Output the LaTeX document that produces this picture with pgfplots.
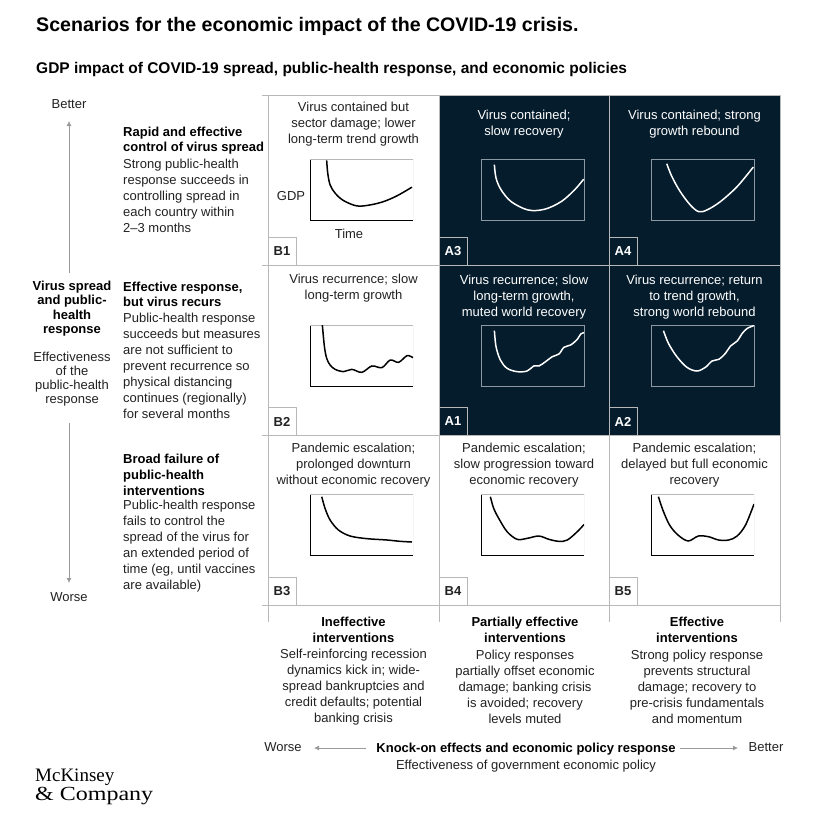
\documentclass[border=0pt]{standalone}
\usepackage{pgfplots}
\pgfplotsset{compat=1.18}
\usetikzlibrary{arrows.meta}
\usepackage{fontspec}
\setmainfont{Liberation Sans}
\newfontfamily\logofont{Liberation Serif}
\definecolor{navy}{HTML}{051C2C}
\definecolor{gridc}{HTML}{B8B8B8}
\definecolor{txt}{HTML}{222222}
\definecolor{boxd}{HTML}{8C98A2}
\definecolor{arr}{HTML}{9A9A9A}

\pgfplotsset{
  mini/.style={scale only axis, width=103pt, height=61pt, xmin=0, xmax=10, ymin=0, ymax=10, ticks=none, anchor=north west},
  miniB/.style={mini, axis lines=left, axis line style={-, black, line width=1pt}},
  miniA/.style={mini, axis line style={boxd, line width=0.8pt}},
  curveB/.style={black, line width=1.5pt, smooth, tension=0.55, no markers},
  curveA/.style={white, line width=1.5pt, smooth, tension=0.55, no markers},
}
\newcommand{\greybox}{\draw[gridc, line width=0.8pt] (rel axis cs:0,1) -- (rel axis cs:1,1) -- (rel axis cs:1,0);}
\newcommand{\body}{\fontsize{13}{16}\selectfont}

\begin{document}
\begin{tikzpicture}
\useasboundingbox (0,0) rectangle (816pt,-814pt);
\begin{scope}[x=1pt,y=-1pt]
  \fill[white] (0,0) rectangle (816,814);
  \fill[navy] (439,95) rectangle (780,435);
  % grid
  \foreach \yy in {95,265,435,605} {\draw[gridc, line width=0.8pt] (262,\yy) -- (780,\yy);}
  \foreach \xx in {268,439,609,780} {\draw[gridc, line width=0.8pt] (\xx,95) -- (\xx,622);}
  % label boxes
  \foreach \xx/\yy/\lab/\col in {268/265/B1/txt, 439/265/A3/white, 609/265/A4/white,
                                 268/435/B2/txt, 439/435/A1/white, 609/435/A2/white,
                                 268/605/B3/txt, 439/605/B4/txt, 609/605/B5/txt} {
    \draw[gridc, line width=0.8pt] (\xx,\yy-28) rectangle (\xx+28,\yy);
    \node[inner sep=0, text=\col, font=\fontsize{13}{16}\selectfont\bfseries] at (\xx+14,\yy-13.5) {\lab};
  }
  % titles
  \node[anchor=west, inner sep=0, font=\fontsize{19.6}{23}\selectfont\bfseries] at (36,26) {Scenarios for the economic impact of the COVID-19 crisis.};
  \node[anchor=west, inner sep=0, font=\fontsize{15.5}{18}\selectfont\bfseries] at (36,69) {GDP impact of COVID-19 spread, public-health response, and economic policies};
  % cell texts
  \node[inner sep=0, align=center, text=txt, font=\body] at (353.5,124) {Virus contained but\\sector damage; lower\\long-term trend growth};
  \node[inner sep=0, align=center, text=white, font=\body] at (524,124.5) {Virus contained;\\slow recovery};
  \node[inner sep=0, align=center, text=white, font=\body] at (694.5,124.5) {Virus contained; strong\\growth rebound};
  \node[inner sep=0, align=center, text=txt, font=\body] at (353.5,288) {Virus recurrence; slow\\long-term growth};
  \node[inner sep=0, align=center, text=white, font=\body] at (524,297) {Virus recurrence; slow\\long-term growth,\\muted world recovery};
  \node[inner sep=0, align=center, text=white, font=\body] at (694.5,297) {Virus recurrence; return\\to trend growth,\\strong world rebound};
  \node[inner sep=0, align=center, text=txt, font=\body] at (353.5,465) {Pandemic escalation;\\prolonged downturn\\without economic recovery};
  \node[inner sep=0, align=center, text=txt, font=\body] at (524,465) {Pandemic escalation;\\slow progression toward\\economic recovery};
  \node[inner sep=0, align=center, text=txt, font=\body] at (694.5,465) {Pandemic escalation;\\delayed but full economic\\recovery};
  \node[inner sep=0, text=txt, font=\body] at (291,196) {GDP};
  \node[inner sep=0, text=txt, font=\body] at (349,234) {Time};
  % left column
  \node[inner sep=0, text=txt, font=\body] at (69,104) {Better};
  \node[inner sep=0, text=txt, font=\body] at (69,597) {Worse};
  \draw[arr, line width=0.8pt, -{Latex[length=5pt,width=5pt]}] (69,273) -- (69,121);
  \draw[arr, line width=0.8pt, -{Latex[length=5pt,width=5pt]}] (69,423) -- (69,583);
  \node[inner sep=0, align=center, font=\fontsize{13}{14.5}\selectfont\bfseries] at (72,308.5) {Virus spread\\and public-\\health\\response};
  \node[inner sep=0, align=center, text=txt, font=\fontsize{13}{14.2}\selectfont] at (72,379) {Effectiveness\\of the\\public-health\\response};
  \node[anchor=west, inner sep=0, align=left, font=\fontsize{13}{15.5}\selectfont\bfseries] at (123,140.5) {Rapid and effective\\control of virus spread};
  \node[anchor=west, inner sep=0, align=left, text=txt, font=\body] at (123,195.5) {Strong public-health\\response succeeds in\\controlling spread in\\each country within\\2–3 months};
  \node[anchor=west, inner sep=0, align=left, font=\fontsize{13}{15.5}\selectfont\bfseries] at (123,294.5) {Effective response,\\but virus recurs};
  \node[anchor=west, inner sep=0, align=left, text=txt, font=\body] at (123,365.5) {Public-health response\\succeeds but measures\\are not sufficient to\\prevent recurrence so\\physical distancing\\continues (regionally)\\for several months};
  \node[anchor=west, inner sep=0, align=left, font=\body\bfseries] at (123,475) {Broad failure of\\public-health\\interventions};
  \node[anchor=west, inner sep=0, align=left, text=txt, font=\body] at (123,546.5) {Public-health response\\fails to control the\\spread of the virus for\\an extended period of\\time (eg, until vaccines\\are available)};
  % bottom columns
  \node[inner sep=0, align=center, font=\body\bfseries] at (353.5,630) {Ineffective\\interventions};
  \node[inner sep=0, align=center, text=txt, font=\body] at (353.5,687) {Self-reinforcing recession\\dynamics kick in; wide-\\spread bankruptcies and\\credit defaults; potential\\banking crisis};
  \node[inner sep=0, align=center, font=\body\bfseries] at (525,630) {Partially effective\\interventions};
  \node[inner sep=0, align=center, text=txt, font=\body] at (525,687) {Policy responses\\partially offset economic\\damage; banking crisis\\is avoided; recovery\\levels muted};
  \node[inner sep=0, align=center, font=\body\bfseries] at (697,630) {Effective\\interventions};
  \node[inner sep=0, align=center, text=txt, font=\body] at (697,687) {Strong policy response\\prevents structural\\damage; recovery to\\pre-crisis fundamentals\\and momentum};
  % bottom axis
  \node[inner sep=0, text=txt, font=\body] at (283,747) {Worse};
  \node[inner sep=0, text=txt, font=\body] at (766,747) {Better};
  \draw[arr, line width=0.8pt, -{Latex[length=5pt,width=5pt]}] (366,748) -- (314,748);
  \draw[arr, line width=0.8pt, -{Latex[length=5pt,width=5pt]}] (680,748) -- (738,748);
  \node[inner sep=0, font=\body\bfseries] at (526,749) {Knock-on effects and economic policy response};
  \node[inner sep=0, text=txt, font=\body] at (526,766) {Effectiveness of government economic policy};
  % logo
  \node[anchor=west, inner sep=0, font=\logofont\fontsize{19}{22}\selectfont] at (35,777) {McKinsey};
  \node[anchor=west, inner sep=0, xscale=1.2, font=\logofont\fontsize{20}{22}\selectfont] at (35,796) {\& Company};
\end{scope}

% ---- mini charts ----
% B1
\begin{axis}[miniB, at={(310pt,-159pt)}]
  \greybox
  \addplot[curveB] coordinates {(1.62,9.78) (1.72,7.69) (1.95,5.77) (2.44,4.40) (3.25,3.19) (4.55,2.31) (5.84,2.47) (7.14,3.02) (8.44,3.96) (9.90,5.38)};
\end{axis}
% A3
\begin{axis}[miniA, at={(481pt,-159pt)}]
  \addplot[curveA] coordinates {(1.30,9.07) (1.46,6.87) (1.95,4.95) (2.92,3.02) (4.55,1.65) (6.17,1.76) (7.79,3.02) (9.09,4.95) (9.97,6.70)};
\end{axis}
% A4
\begin{axis}[miniA, at={(651pt,-159pt)}]
  \addplot[curveA] coordinates {(1.53,9.23) (2.02,7.14) (2.83,4.67) (3.81,2.47) (4.63,1.37) (5.44,1.65) (6.74,3.02) (8.37,5.49) (9.93,8.68)};
\end{axis}
% B2
\begin{axis}[miniB, at={(310pt,-325pt)}]
  \greybox
  \addplot[curveB] coordinates {(1.20,10.0) (1.40,6.45) (1.62,4.54) (1.95,3.44) (2.44,2.73) (3.25,2.35) (4.06,2.73) (5.03,2.24) (6.01,3.28) (6.98,3.01) (7.79,4.26) (8.60,3.88) (9.42,4.97) (10.0,4.64)};
\end{axis}
% A1
\begin{axis}[miniA, at={(481pt,-325pt)}]
  \addplot[curveA] coordinates {(1.30,9.07) (1.46,6.45) (1.88,4.26) (2.53,2.90) (3.51,2.35) (4.48,2.46) (5.13,3.28) (5.62,3.28) (6.27,3.99) (6.92,4.81) (7.57,5.25) (8.05,6.34) (8.70,6.72) (9.35,7.65) (9.68,8.52) (10.0,8.74)};
\end{axis}
% A2
\begin{axis}[miniA, at={(651pt,-325pt)}]
  \addplot[curveA] coordinates {(1.21,9.07) (1.69,7.0) (2.51,4.81) (3.49,3.06) (4.46,2.46) (5.28,3.06) (5.93,4.10) (6.58,4.37) (7.23,5.36) (7.72,6.56) (8.37,7.38) (8.86,8.63) (9.35,9.45) (10.0,9.9)};
\end{axis}
% B3
\begin{axis}[miniB, at={(310pt,-494pt)}]
  \greybox
  \addplot[curveB] coordinates {(1.14,9.56) (1.46,7.65) (1.95,5.74) (2.76,4.10) (3.90,3.11) (5.52,2.68) (7.47,2.46) (8.77,2.24) (9.90,2.13)};
\end{axis}
% B4
\begin{axis}[miniB, at={(481pt,-494pt)}]
  \greybox
  \addplot[curveB] coordinates {(0.91,9.56) (1.23,7.65) (1.72,6.01) (2.53,3.83) (3.51,2.57) (4.48,2.73) (5.62,3.11) (6.59,2.57) (7.56,2.24) (8.38,2.46) (9.35,3.83) (10.0,5.0)};
\end{axis}
% B5
\begin{axis}[miniB, at={(651pt,-494pt)}]
  \greybox
  \addplot[curveB] coordinates {(0.72,9.56) (1.15,7.38) (1.80,4.92) (2.62,3.28) (3.61,2.30) (4.59,3.11) (5.57,3.01) (6.56,2.46) (7.54,2.46) (8.36,3.11) (9.18,4.92) (10.0,8.36)};
\end{axis}
\end{tikzpicture}
\end{document}
